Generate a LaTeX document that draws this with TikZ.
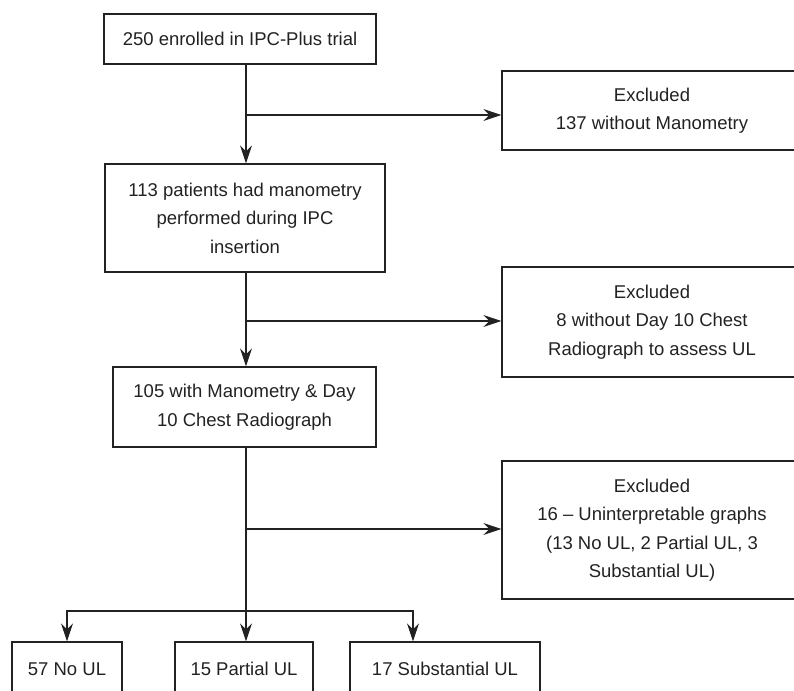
\documentclass[tikz,border=0pt]{standalone}
\usepackage{fontspec}
\setmainfont{Liberation Sans}
\usetikzlibrary{arrows.meta}
\definecolor{ink}{HTML}{222222}
\begin{document}
\begin{tikzpicture}[x=1pt,y=-1pt,
  box/.style={draw=ink,line width=1.3pt,rectangle,inner sep=0pt,align=center,
    text=ink,font=\fontsize{18.5}{28.5}\selectfont},
  conn/.style={draw=ink,line width=1.3pt,-{Stealth[length=18pt,width=12pt,inset=6pt]}},
  line/.style={draw=ink,line width=1.3pt}]
\useasboundingbox (0,0) rectangle (794,690);
\clip (0,0) rectangle (794,690);
\node[box,minimum width=272pt,minimum height=50pt] (b1) at (240,39) {250 enrolled in IPC-Plus trial};
\node[box,minimum width=280pt,minimum height=108pt] (b2) at (245,218) {113 patients had manometry\\performed during IPC\\insertion};
\node[box,minimum width=263pt,minimum height=80pt] (b3) at (244.5,407) {105 with Manometry \& Day\\10 Chest Radiograph};
\node[box,minimum width=300pt,minimum height=79pt] (e1) at (652,110.5) {Excluded\\137 without Manometry};
\node[box,minimum width=300pt,minimum height=110pt] (e2) at (652,322) {Excluded\\8 without Day 10 Chest\\Radiograph to assess UL};
\node[box,minimum width=300pt,minimum height=138pt] (e3) at (652,530) {Excluded\\16 – Uninterpretable graphs\\(13 No UL, 2 Partial UL, 3\\Substantial UL)};
\node[box,minimum width=110pt,minimum height=60pt] (c1) at (67,672) {\smash{\raisebox{-3pt}{57 No UL}}};
\node[box,minimum width=138pt,minimum height=60pt] (c2) at (244,672) {\smash{\raisebox{-3pt}{15 Partial UL}}};
\node[box,minimum width=190pt,minimum height=60pt] (c3) at (445,672) {\smash{\raisebox{-3pt}{17 Substantial UL}}};
% connectors
\coordinate (j1) at (246,115);
\coordinate (j2) at (246,321);
\coordinate (j3) at (246,529);
\coordinate (j4) at (246,611);
\draw[line] (b1.south -| j1) -- (j1);
\draw[conn] (j1) -- (b2.north -| j1);
\draw[conn] (j1) -- (e1.west |- j1);
\draw[line] (b2.south -| j2) -- (j2);
\draw[conn] (j2) -- (b3.north -| j2);
\draw[conn] (j2) -- (e2.west |- j2);
\draw[line] (b3.south -| j3) -- (j4);
\draw[conn] (j3) -- (e3.west |- j3);
\draw[conn] (j4) -- (c2.north -| j4);
\draw[conn] (j4) -| (c1.north);
\draw[conn] (j4) -| ([xshift=-32pt]c3.north);
\end{tikzpicture}
\end{document}
